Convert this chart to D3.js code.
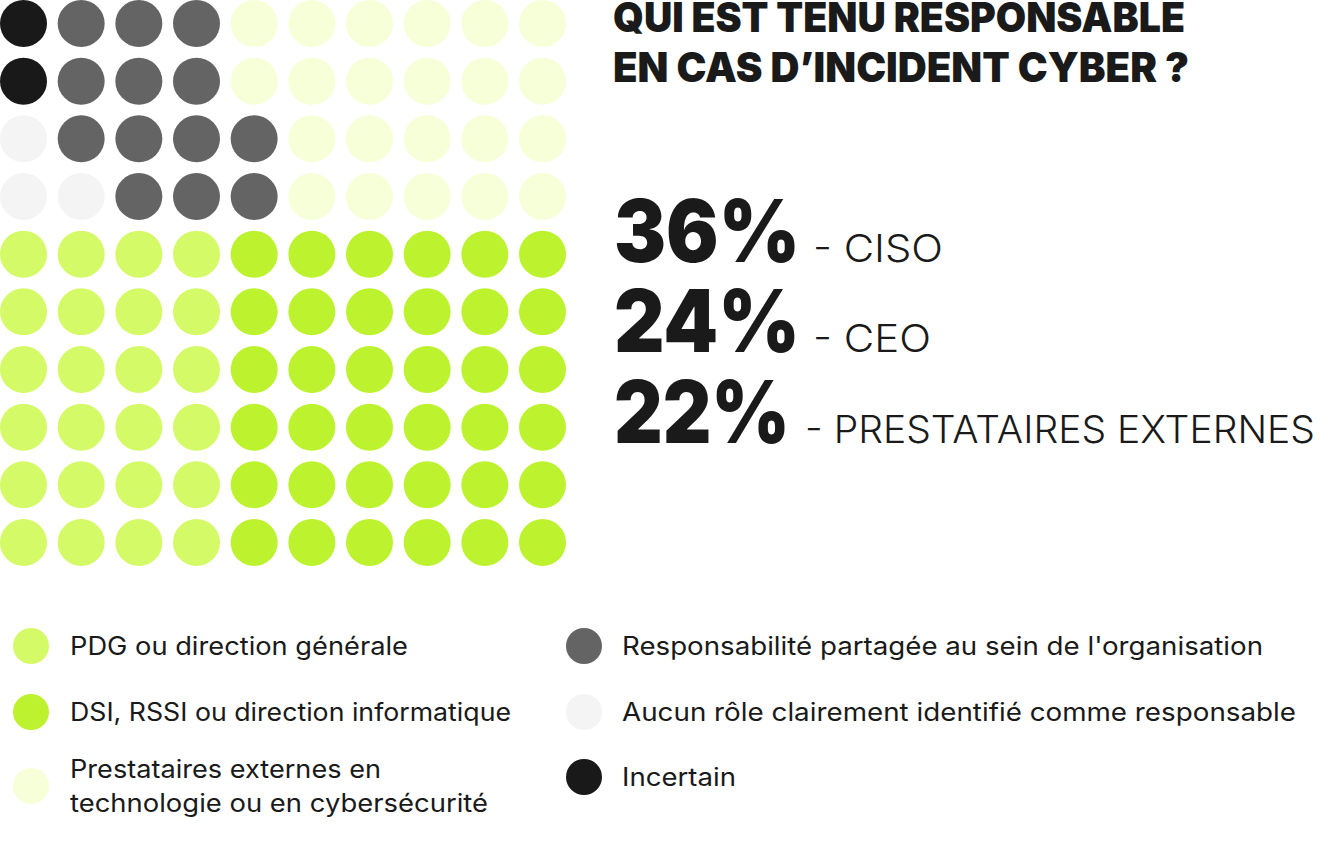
<!DOCTYPE html>
<html>
<head>
<meta charset="utf-8">
<script src="https://cdn.jsdelivr.net/npm/d3@7"></script>
<style>
  html, body { margin: 0; padding: 0; background: #ffffff; }
  svg { display: block; }
  text { font-family: Inter, "Open Sans", sans-serif; fill: #1a1a1a; }
  .heavy { font-family: Inter, "Open Sans", sans-serif; font-weight: 900; }
</style>
</head>
<body>
<svg id="chart" width="1334" height="842"></svg>
<script>
// ---- DATA ----
const categories = [
  "PDG ou direction générale",
  "DSI, RSSI ou direction informatique",
  "Prestataires externes en technologie ou en cybersécurité",
  "Responsabilité partagée au sein de l'organisation",
  "Aucun rôle clairement identifié comme responsable",
  "Incertain"
];
const values = [24, 36, 22, 13, 3, 2];
// waffle cells: category index per cell, row by row (10 x 10)
const cellRows = [
  [5,3,3,3,2,2,2,2,2,2],
  [5,3,3,3,2,2,2,2,2,2],
  [4,3,3,3,3,2,2,2,2,2],
  [4,4,3,3,3,2,2,2,2,2],
  [0,0,0,0,1,1,1,1,1,1],
  [0,0,0,0,1,1,1,1,1,1],
  [0,0,0,0,1,1,1,1,1,1],
  [0,0,0,0,1,1,1,1,1,1],
  [0,0,0,0,1,1,1,1,1,1],
  [0,0,0,0,1,1,1,1,1,1]
];
const titleLines = ["QUI EST TENU RESPONSABLE", "EN CAS D’INCIDENT CYBER ?"];
const highlightValues = [36, 24, 22];
const highlightLabels = ["CISO", "CEO", "PRESTATAIRES EXTERNES"];
const legendLeft = [
  { cat: 0, lines: ["PDG ou direction générale"] },
  { cat: 1, lines: ["DSI, RSSI ou direction informatique"] },
  { cat: 2, lines: ["Prestataires externes en", "technologie ou en cybersécurité"] }
];
const legendRight = [
  { cat: 3, lines: ["Responsabilité partagée au sein de l'organisation"] },
  { cat: 4, lines: ["Aucun rôle clairement identifié comme responsable"] },
  { cat: 5, lines: ["Incertain"] }
];

// ---- STYLE / LAYOUT ----
const colors = ["#d4fa67", "#bdf22f", "#f6ffd8", "#656465", "#f4f4f4", "#191919"];
const svg = d3.select("#chart");

const color = d3.scaleOrdinal().domain(d3.range(categories.length)).range(colors);

// Waffle
const idx = d3.range(10);
const x = d3.scaleBand().domain(idx).range([0, 566]).paddingInner(0.185).paddingOuter(0);
const y = d3.scaleBand().domain(idx).range([0, 566]).paddingInner(0.185).paddingOuter(0);
const cells = [];
cellRows.forEach((row, r) => row.forEach((c, col) => cells.push({ r, col, c })));
svg.append("g").selectAll("circle").data(cells).join("circle")
  .attr("cx", d => x(d.col) + x.bandwidth() / 2)
  .attr("cy", d => y(d.r) + y.bandwidth() / 2)
  .attr("r", x.bandwidth() / 2)
  .attr("fill", d => color(d.c));

// fit helper: scale text horizontally to target width
function fit(sel, w) {
  sel.attr("textLength", w).attr("lengthAdjust", "spacingAndGlyphs");
}

// Title
const titleW = [572, 576];
const titleY = [32, 82];
titleLines.forEach((t, i) => {
  svg.append("text").attr("class", "heavy").attr("x", 613).attr("y", titleY[i])
    .attr("font-size", 41).text(t)
    .call(fit, titleW[i]);
});

// Highlights
const hlY = [262, 352, 443];
const numW = [186, 186, 176];
const labX = [813, 813, 805];
const labW = [130, 118, 510];
highlightValues.forEach((v, i) => {
  svg.append("text").attr("class", "heavy").attr("x", 614).attr("y", hlY[i])
    .attr("font-size", 86).text(v + "%")
    .call(fit, numW[i]);
  svg.append("text").attr("x", labX[i]).attr("y", hlY[i])
    .attr("font-size", 38).attr("font-weight", 300).text("- " + highlightLabels[i])
    .call(fit, labW[i]);
});

// Legend
const legendRowsLeft = [646, 712, 786];
const legendRowsRight = [646, 712, 777];
const leftW = [[338], [441], [311, 418]];
const rightW = [[641], [674], [114]];
function drawLegend(items, cx, tx, rows, widths) {
  items.forEach((it, i) => {
    svg.append("circle").attr("cx", cx).attr("cy", rows[i]).attr("r", 18)
      .attr("fill", color(it.cat));
    const n = it.lines.length;
    it.lines.forEach((ln, j) => {
      const base = rows[i] + 9 + (j - (n - 1) / 2) * 34;
      svg.append("text").attr("x", tx).attr("y", base)
        .attr("font-size", 25).attr("font-weight", 400).text(ln)
        .call(fit, widths[i][j]);
    });
  });
}
drawLegend(legendLeft, 31, 70, legendRowsLeft, leftW);
drawLegend(legendRight, 584, 622, legendRowsRight, rightW);
</script>
</body>
</html>
